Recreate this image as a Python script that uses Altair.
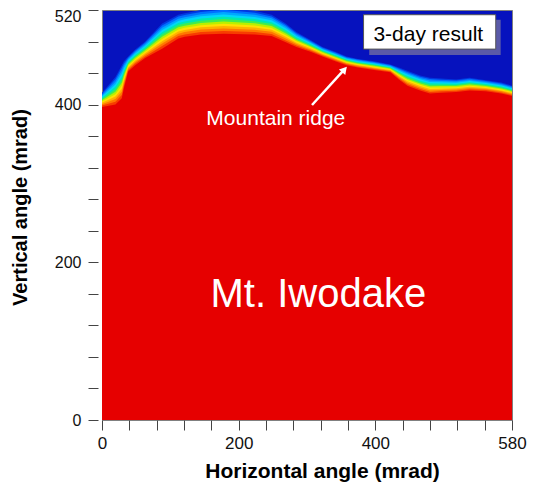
import altair as alt
import pandas as pd

# Horizontal positions (mrad) where the contour edges were read
x_mrad = [0, 19, 28, 31, 37, 47, 61, 85, 108, 117, 140, 172, 216, 240, 260, 275, 295,
          312, 330, 346, 362, 385, 408, 420, 432, 450, 464, 480, 501, 520, 543, 565, 580]
# Top of the red (mountain) region
ridge = [397, 400, 408, 421, 442, 450, 459, 471, 484, 486, 489, 490, 489, 487, 479, 473, 467,
         461, 455, 450, 447, 444, 441, 432, 424, 418, 414, 415, 416, 418, 417, 414, 411]
# Bottom of the dark-blue (open sky) region
sky_edge = [415, 435, 450, 455, 461, 470, 480, 503, 514, 516, 520, 523, 519, 514, 503, 492, 482,
            473, 467, 461, 458, 455, 451, 447, 443, 437, 434, 433, 432, 434, 431, 428, 424]

# Colour bands between ridge (0) and sky edge (1)
band_levels = [1.0, 0.92, 0.83, 0.74, 0.65, 0.56, 0.47, 0.38, 0.29, 0.2, 0.1]
band_colors = ["#0038e0", "#0070ff", "#00a8ff", "#00d8f8", "#00e8b0", "#40ec50",
               "#b8f000", "#ffe000", "#ffb000", "#ff7800", "#f83c00"]
RED = "#e60000"
BLUE = "#0612be"

x_ticks = [580 * i / 15 for i in range(16)]
y_ticks = list(range(0, 521, 40))

FONT = "Liberation Sans"

xscale = alt.Scale(domain=[0, 580], nice=False, zero=False)
yscale = alt.Scale(domain=[0, 520], nice=False)

x_axis = alt.Axis(
    values=x_ticks,
    labelExpr=("datum.value == 0 ? '0' : abs(datum.value - 193.333) < 0.5 ? '200' : "
               "abs(datum.value - 386.667) < 0.5 ? '400' : abs(datum.value - 580) < 0.5 ? '580' : ''"),
    title="Horizontal angle (mrad)", domain=False, grid=False, labelFlush=False,
    tickSize=10, tickColor="#444", labelPadding=5, labelFontSize=17,
    labelColor="#111", labelFont=FONT, titleFont=FONT, titleFontSize=21,
    titleFontWeight="bold", titleColor="#000", titleBaseline="alphabetic",
    titleY=57, titleX=220, titleAlign="center",
)
y_axis = alt.Axis(
    values=y_ticks,
    labelExpr="indexof([0, 200, 400, 520], datum.value) >= 0 ? datum.label : ''",
    title="Vertical angle (mrad)", domain=False, grid=False, labelFlush=False,
    tickSize=10, tickColor="#444", offset=4, labelPadding=7, labelFontSize=16,
    labelColor="#111", labelFont=FONT, titleFont=FONT, titleFontSize=20,
    titleFontWeight="bold", titleColor="#000", titleBaseline="alphabetic",
    titleAngle=-90, titleX=-72, titleY=197, titleAlign="center",
    labelOffset=alt.condition("datum.value == 520", alt.value(6), alt.value(0)),
)

X = alt.X("x:Q", scale=xscale, axis=x_axis)
Y = alt.Y("y:Q", scale=yscale, axis=y_axis)

layers = []
for lev, col in zip(band_levels, band_colors):
    df = pd.DataFrame({
        "x": x_mrad,
        "y": [r + lev * (s - r) for r, s in zip(ridge, sky_edge)],
    })
    layers.append(alt.Chart(df).mark_area(color=col, clip=True).encode(x=X, y=Y))

red_df = pd.DataFrame({"x": x_mrad, "y": ridge})
layers.append(alt.Chart(red_df).mark_area(color=RED, clip=True).encode(x=X, y=Y))

# Label box "3-day result" with shadow
box_shadow = pd.DataFrame({"x": [378], "x2": [564], "y": [507.6], "y2": [463]})
box = pd.DataFrame({"x": [370], "x2": [557], "y": [514], "y2": [470.4]})
layers.append(alt.Chart(box_shadow).mark_rect(color="#5a5aa8").encode(
    x=X, x2="x2:Q", y=Y, y2="y2:Q"))
layers.append(alt.Chart(box).mark_rect(color="white", stroke="#555", strokeWidth=1).encode(
    x=X, x2="x2:Q", y=Y, y2="y2:Q"))

texts = pd.DataFrame({
    "x": [461.6, 245.9, 306.0],
    "y": [480.7, 374.1, 143.7],
    "t": ["3-day result", "Mountain ridge", "Mt. Iwodake"],
    "c": ["#000000", "#ffffff", "#ffffff"],
    "s": [21, 21, 40],
})
layers.append(alt.Chart(texts).mark_text(font=FONT, align="center", baseline="alphabetic").encode(
    x=X, y=Y, text="t:N",
    color=alt.Color("c:N", scale=None),
    size=alt.Size("s:Q", scale=None),
))

# Arrow pointing at the ridge
arrow = pd.DataFrame({"x": [297.1], "y": [399.5], "x2": [343.0], "y2": [444.6]})
head = pd.DataFrame({"x": [343.0], "y": [444.6]})
layers.append(alt.Chart(arrow).mark_rule(color="white", strokeWidth=2.5).encode(
    x=X, y=Y, x2="x2:Q", y2="y2:Q"))
layers.append(alt.Chart(head).mark_point(shape="triangle-up", filled=True, color="white",
                                         opacity=1, size=70, angle=41).encode(x=X, y=Y))

chart = alt.layer(*layers).properties(
    width=410, height=410,
    padding={"left": 94, "top": 2, "right": 18, "bottom": 63},
    autosize="none",
).configure_view(fill=BLUE, stroke="#808080", strokeWidth=1)

chart.save("out.html", embed_options={"renderer": "svg", "actions": False})
